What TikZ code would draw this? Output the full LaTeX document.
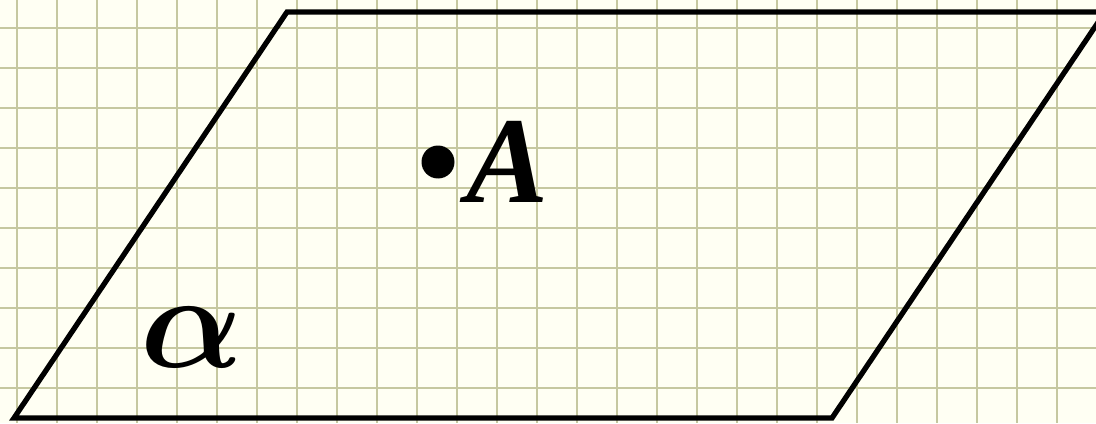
\RequirePackage{fix-cm}
\documentclass[tikz,border=0pt]{standalone}
\usepackage{amsmath}
\usepackage{fontspec}
\setmainfont{Liberation Serif}
\definecolor{paper}{RGB}{255,255,243}
\definecolor{gridline}{RGB}{198,200,160}

\begin{document}
\begin{tikzpicture}[x=0.02cm,y=-0.02cm]
   \tikzstyle{edge}=[line width=3pt, line join=miter]
   \tikzstyle{label}=[inner sep=0pt, anchor=base]
   \fill[paper] (0,0) rectangle (1096,423);
   \useasboundingbox (0,0) rectangle (1096,423);
   % squared paper
   \foreach \i in {0,...,27} {
       \draw[gridline, line width=1.1pt] (17+40*\i,0) -- (17+40*\i,423);
   }
   \foreach \j in {0,...,9} {
       \draw[gridline, line width=1.1pt] (0,28+40*\j) -- (1096,28+40*\j);
   }
   % plane alpha
   \coordinate (bl) at (14,418);
   \coordinate (tl) at (287,12);
   \coordinate (tr) at (1105,12);
   \coordinate (br) at (832,418);
   \draw[edge] (bl) -- (tl) -- (tr) -- (br) -- cycle;
   \node[label, font=\fontsize{77}{77}\selectfont] (alpha) at (192,367) {$\boldsymbol{\alpha}$};
   % point A
   \node[circle, fill=black, inner sep=0pt, minimum size=0.66cm] (dotA) at (438,162) {};
   \node[label, font=\fontsize{70}{70}\selectfont\bfseries\itshape] (A) at (508,202) {A};
\end{tikzpicture}
\end{document}
